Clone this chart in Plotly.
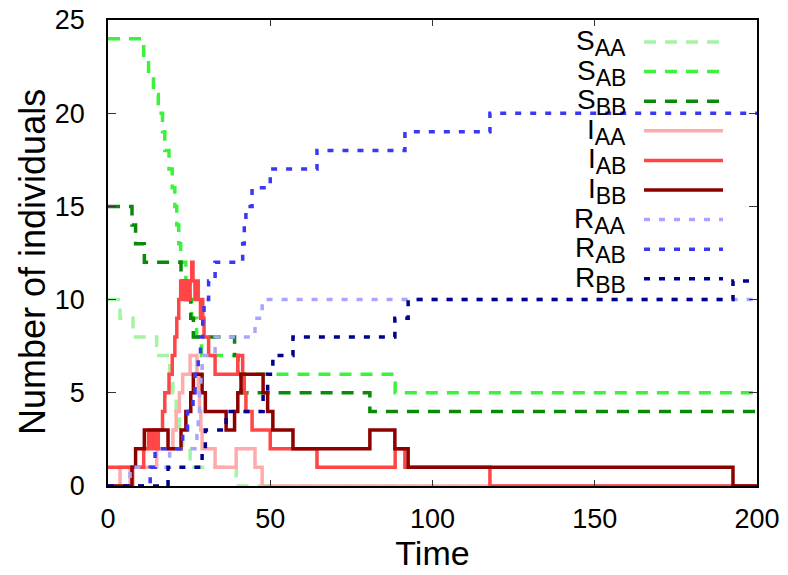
import plotly.graph_objects as go

# ---------------- data (event times and values, step functions) ----------------
S_AA_t = [0, 3.7, 7.7, 15, 19, 20, 21, 22, 23, 25.3, 39.5]
S_AA_v = [10, 9, 8, 7, 6, 5, 4, 3, 2, 1, 0]

S_AB_t = [0, 11, 12.5, 14, 15.5, 16.8, 17.5, 18.8, 19.8, 20.6, 21.2, 21.8, 22.4,
          24, 25.3, 25.8, 27.3, 28.8, 40, 88.5]
S_AB_v = [24, 23, 22, 21, 20, 19, 18, 17, 16, 15, 14, 13, 12, 11, 10, 9, 8, 7, 6, 5]

S_BB_t = [0, 7.4, 8.5, 11.2, 22.5, 24, 25.5, 26.3, 39, 40, 41, 80.7]
S_BB_v = [15, 14, 13, 12, 11, 10, 9, 8, 7, 6, 5, 4]

I_AA_t = [0, 3.7, 6.8, 7.7, 15, 20, 21, 22, 23, 25.3, 27.4, 27.8, 28.2, 28.6, 29,
          33, 39.5, 45.3, 47.5]
I_AA_v = [0, 1, 0, 1, 2, 3, 4, 5, 6, 7, 6, 5, 4, 3, 2, 1, 2, 1, 0]

I_AB_t = [0, 11, 12.5, 13, 14, 14.5, 15.5, 16.8, 17.5, 18.8, 19.8, 20.6, 21.2, 21.8,
          22.4, 23, 24, 24.5, 25.3, 25.8, 26.2, 26.8, 27.3, 27.8, 28.5, 28.8, 29.2,
          29.6, 31, 33, 40, 41.5, 42, 42.5, 44.4, 50, 64.4, 88.5, 91.5, 117.7]
I_AB_v = [1, 2, 3, 2, 3, 2, 3, 4, 5, 6, 7, 8, 9, 10, 11, 10, 11, 10, 11, 12, 11, 10,
          11, 10, 9, 10, 9, 8, 7, 6, 7, 6, 5, 4, 3, 2, 1, 2, 1, 0]

I_BB_t = [0, 7.4, 8.5, 11.2, 18.5, 22.5, 24, 25.5, 26.3, 29, 30, 36.4, 39, 40, 41,
          47.8, 49.2, 50.8, 57, 80.7, 88.4, 92.5, 192.6]
I_BB_v = [0, 1, 2, 3, 2, 3, 4, 5, 6, 5, 4, 3, 4, 5, 6, 5, 4, 3, 2, 3, 2, 1, 0]

R_AA_t = [0, 6.8, 19, 27.4, 27.8, 28.2, 28.6, 29, 33, 45.3, 47.5]
R_AA_v = [0, 1, 2, 3, 4, 5, 6, 7, 8, 9, 10]

R_AB_t = [0, 13, 14.5, 23, 24.5, 26.2, 26.8, 27.8, 28.5, 29.2, 29.6, 31, 33, 41.5,
          42, 42.5, 44.4, 50, 64.4, 91.5, 117.7]
R_AB_v = [0, 1, 2, 3, 4, 5, 6, 7, 8, 9, 10, 11, 12, 13, 14, 15, 16, 17, 18, 19, 20]

R_BB_t = [0, 18.5, 29, 30, 36.4, 47.8, 49.2, 50.8, 57, 88.4, 92.5, 192.6]
R_BB_v = [0, 1, 2, 3, 4, 5, 6, 7, 8, 9, 10, 11]

T_END = 200
x_ticks = [0, 50, 100, 150, 200]
y_ticks = [0, 5, 10, 15, 20, 25]

series = [
    ("S", "AA", S_AA_t, S_AA_v, "#a4f4a4", "12px,9px"),
    ("S", "AB", S_AB_t, S_AB_v, "#3df23d", "12px,9px"),
    ("S", "BB", S_BB_t, S_BB_v, "#0a8a0a", "12px,9px"),
    ("I", "AA", I_AA_t, I_AA_v, "#ffabab", "solid"),
    ("I", "AB", I_AB_t, I_AB_v, "#ff4545", "solid"),
    ("I", "BB", I_BB_t, I_BB_v, "#8c0000", "solid"),
    ("R", "AA", R_AA_t, R_AA_v, "#a6a6ff", "6px,9px"),
    ("R", "AB", R_AB_t, R_AB_v, "#3838f5", "6px,9px"),
    ("R", "BB", R_BB_t, R_BB_v, "#00008c", "6px,9px"),
]

FONT = "Liberation Sans, Arial, sans-serif"

fig = go.Figure()
for letter, sub, ts, vs, color, dash in series:
    fig.add_trace(go.Scatter(
        x=list(ts) + [T_END], y=list(vs) + [vs[-1]],
        mode="lines", line=dict(shape="hv", color=color, width=3.5, dash=dash),
        name=f"{letter}{sub}", showlegend=False, hoverinfo="skip"))

# page has an 8px body margin: work in page pixels, convert to figure pixels
OFF = 8
FIG_W, FIG_H = 788 - OFF, 575 - OFF
L, R, T, B = 108 - OFF, 757 - OFF, 20 - OFF, 486 - OFF
W, H = R - L, B - T
def px(x):
    return (x - OFF - L) / W
def py(y):
    return (B - (y - OFF)) / H

shapes = []
annotations = []
for i, (letter, sub, ts, vs, color, dash) in enumerate(series):
    yy = 42 + 29.6 * i
    annotations.append(dict(
        xref="paper", yref="paper", x=px(628), y=py(yy + 1), xanchor="right", yanchor="middle",
        text=f"{letter}<sub><span style='font-size:23px'>{sub}</span></sub>", showarrow=False,
        font=dict(family=FONT, size=28, color="black")))
    shapes.append(dict(
        type="line", xref="paper", yref="paper", x0=px(644), x1=px(723), y0=py(yy), y1=py(yy),
        line=dict(color=color, width=3.5, dash=dash)))

# y-axis title as a rotated annotation for exact placement
annotations.append(dict(
    xref="paper", yref="paper", x=px(32), y=py(262), xanchor="center", yanchor="middle",
    text="Number of individuals", textangle=-90, showarrow=False,
    font=dict(family=FONT, size=36, color="black")))

fig.update_layout(
    width=FIG_W, height=FIG_H,
    margin=dict(l=L, r=FIG_W - R, t=T, b=FIG_H - B),
    paper_bgcolor="white", plot_bgcolor="white",
    font=dict(family=FONT, color="black"),
    shapes=shapes, annotations=annotations,
    xaxis=dict(range=[0, 200], tickvals=x_ticks, ticktext=[str(v) for v in x_ticks],
               ticks="inside", ticklen=6, tickwidth=1, tickcolor="#333",
               showline=True, linecolor="black", linewidth=1.5, mirror="allticks",
               showgrid=False, zeroline=False, tickfont=dict(size=27),
               ticklabelstandoff=8, automargin=False, ticklabeloverflow="allow",
               title=dict(text="Time", font=dict(size=34), standoff=4)),
    yaxis=dict(range=[0, 25], tickvals=y_ticks, ticktext=[str(v) for v in y_ticks],
               ticks="inside", ticklen=8, tickwidth=1, tickcolor="#333",
               showline=True, linecolor="black", linewidth=1.5, mirror="allticks",
               showgrid=False, zeroline=False, tickfont=dict(size=27),
               ticklabelstandoff=16, automargin=False, ticklabeloverflow="allow"),
)

fig.write_html("out.html")
